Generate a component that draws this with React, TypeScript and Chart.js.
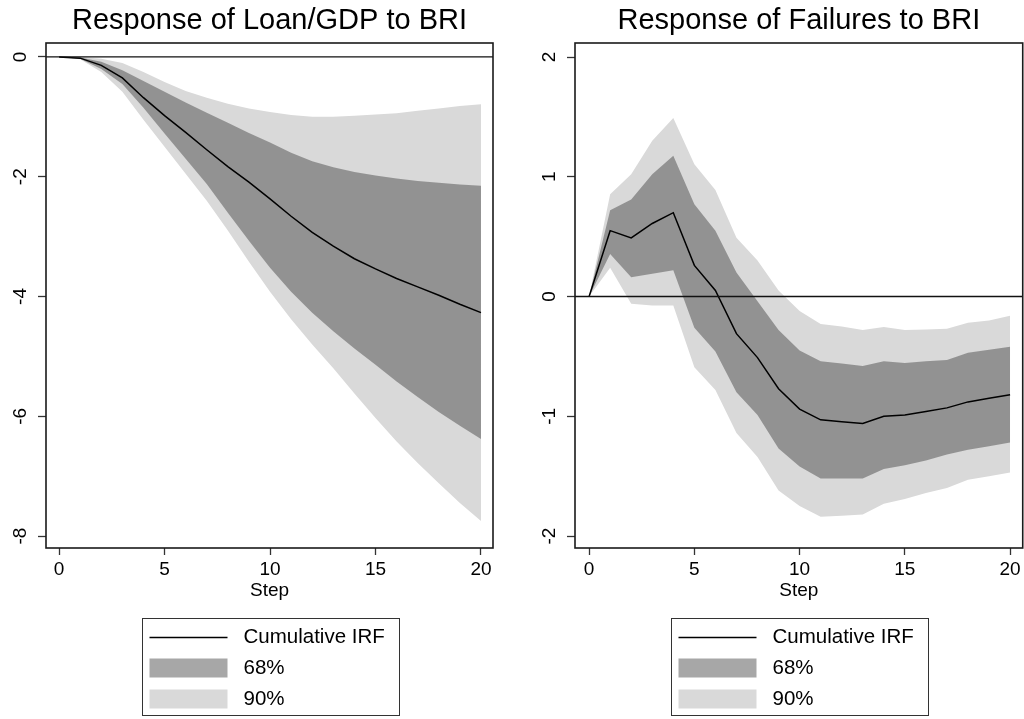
import React, { useEffect, useRef } from "react";
import { Chart, registerables } from "chart.js";

Chart.register(...registerables);

// ---------- data ----------
const steps = [0, 1, 2, 3, 4, 5, 6, 7, 8, 9, 10, 11, 12, 13, 14, 15, 16, 17, 18, 19, 20];
const xTicks = [0, 5, 10, 15, 20];
const legendLabels = ["Cumulative IRF", "68%", "90%"];
const xAxisLabel = "Step";

// Panel 1: Response of Loan/GDP to BRI
const loanTitle = "Response of Loan/GDP to BRI";
const loanYTicks = [0, -2, -4, -6, -8];
const loanIrf = [0, -0.02, -0.14, -0.35, -0.68, -0.98, -1.26, -1.55, -1.83, -2.09, -2.37, -2.66, -2.93, -3.16, -3.37, -3.54, -3.7, -3.84, -3.98, -4.13, -4.27];
const loan68Up = [0, -0.01, -0.08, -0.22, -0.4, -0.58, -0.76, -0.93, -1.1, -1.27, -1.43, -1.6, -1.74, -1.84, -1.92, -1.98, -2.03, -2.07, -2.1, -2.13, -2.15];
const loan68Lo = [0, -0.03, -0.2, -0.45, -0.85, -1.28, -1.7, -2.12, -2.6, -3.07, -3.52, -3.92, -4.27, -4.58, -4.87, -5.14, -5.42, -5.68, -5.93, -6.16, -6.38];
const loan90Up = [0, 0, -0.03, -0.1, -0.25, -0.42, -0.57, -0.68, -0.78, -0.86, -0.92, -0.97, -1.0, -1.0, -0.98, -0.96, -0.94, -0.9, -0.86, -0.82, -0.79];
const loan90Lo = [0, -0.04, -0.25, -0.58, -1.05, -1.5, -1.95, -2.4, -2.9, -3.42, -3.92, -4.38, -4.8, -5.2, -5.62, -6.03, -6.42, -6.78, -7.12, -7.45, -7.75];

// Panel 2: Response of Failures to BRI
const failTitle = "Response of Failures to BRI";
const failYTicks = [2, 1, 0, -1, -2];
const failIrf = [0, 0.55, 0.49, 0.61, 0.7, 0.26, 0.05, -0.31, -0.51, -0.77, -0.94, -1.03, -1.045, -1.06, -1.0, -0.99, -0.96, -0.93, -0.88, -0.85, -0.82];
const fail68Up = [0, 0.72, 0.81, 1.02, 1.175, 0.77, 0.55, 0.2, -0.04, -0.28, -0.45, -0.54, -0.56, -0.58, -0.54, -0.555, -0.54, -0.53, -0.47, -0.445, -0.42];
const fail68Lo = [0, 0.355, 0.16, 0.19, 0.22, -0.26, -0.46, -0.8, -0.99, -1.27, -1.42, -1.52, -1.52, -1.52, -1.44, -1.41, -1.37, -1.32, -1.28, -1.25, -1.22];
const fail90Up = [0, 0.855, 1.02, 1.3, 1.49, 1.105, 0.89, 0.49, 0.3, 0.05, -0.12, -0.23, -0.25, -0.28, -0.255, -0.28, -0.275, -0.27, -0.22, -0.2, -0.16];
const fail90Lo = [0, 0.24, -0.06, -0.075, -0.075, -0.59, -0.78, -1.14, -1.34, -1.62, -1.75, -1.84, -1.83, -1.82, -1.73, -1.69, -1.64, -1.6, -1.53, -1.5, -1.47];

const refLineValue = 0;

// ---------- style ----------
const FONT = "'Liberation Sans', Arial, Helvetica, sans-serif";
const BAND68 = "rgba(60,60,60,0.45)";
const BAND90 = "#d9d9d9";
const LINE = "#000000";

const framePlugin = {
  id: "frameAndRef",
  afterDatasetsDraw(chart: any) {
    const { ctx, chartArea, scales } = chart;
    ctx.save();
    const y0 = scales.y.getPixelForValue(refLineValue);
    ctx.strokeStyle = "#111";
    ctx.lineWidth = 1.3;
    ctx.beginPath();
    ctx.moveTo(chartArea.left, y0);
    ctx.lineTo(chartArea.right, y0);
    ctx.stroke();
    ctx.lineWidth = 1.6;
    ctx.strokeStyle = "#1a1a1a";
    ctx.strokeRect(chartArea.left, chartArea.top, chartArea.right - chartArea.left, chartArea.bottom - chartArea.top);
    ctx.restore();
  },
};

const legendPlugin = {
  id: "boxLegend",
  afterDraw(chart: any) {
    const { ctx, chartArea } = chart;
    const w = 257;
    const h = 97;
    const cx = (chartArea.left + chartArea.right) / 2 + 1;
    const left = Math.round(cx - w / 2) + 0.5;
    const top = chartArea.bottom + 70.5;
    ctx.save();
    ctx.strokeStyle = "#333";
    ctx.lineWidth = 1;
    ctx.strokeRect(left, top, w, h);
    const rows = [top + 19, top + 49.5, top + 80.5];
    const sx = left + 7;
    const sw = 78;
    ctx.strokeStyle = LINE;
    ctx.lineWidth = 1.5;
    ctx.beginPath();
    ctx.moveTo(sx, rows[0]);
    ctx.lineTo(sx + sw, rows[0]);
    ctx.stroke();
    ctx.fillStyle = BAND68;
    ctx.fillRect(sx, rows[1] - 9.5, sw, 19);
    ctx.fillStyle = BAND90;
    ctx.fillRect(sx, rows[2] - 9.5, sw, 19);
    ctx.fillStyle = "#000";
    ctx.font = `20.5px ${FONT}`;
    ctx.textBaseline = "middle";
    ctx.textAlign = "left";
    legendLabels.forEach((t, i) => ctx.fillText(t, left + 101, rows[i]));
    ctx.restore();
  },
};

type PanelProps = {
  title: string;
  irf: number[];
  up68: number[];
  lo68: number[];
  up90: number[];
  lo90: number[];
  yMin: number;
  yMax: number;
  yTicks: number[];
  xMin: number;
  xMax: number;
  yWidth: number;
  padRight: number;
};

function Panel(p: PanelProps) {
  const ref = useRef<HTMLCanvasElement | null>(null);
  useEffect(() => {
    if (!ref.current) return;
    const pts = (vals: number[]) => steps.map((s, i) => ({ x: s, y: vals[i] }));
    const tickFont = { family: FONT, size: 19 };
    const chart = new Chart(ref.current, {
      type: "line",
      data: {
        datasets: [
          { label: legendLabels[0], data: pts(p.irf), borderColor: LINE, borderWidth: 1.5, pointRadius: 0, fill: false, order: 0, tension: 0 },
          { label: legendLabels[1], data: pts(p.up68), borderWidth: 0, borderColor: "rgba(0,0,0,0)", backgroundColor: BAND68, pointRadius: 0, fill: "+1", order: 1 },
          { label: "68% lower", data: pts(p.lo68), borderWidth: 0, borderColor: "rgba(0,0,0,0)", pointRadius: 0, fill: false, order: 1 },
          { label: legendLabels[2], data: pts(p.up90), borderWidth: 0, borderColor: "rgba(0,0,0,0)", backgroundColor: BAND90, pointRadius: 0, fill: "+1", order: 2 },
          { label: "90% lower", data: pts(p.lo90), borderWidth: 0, borderColor: "rgba(0,0,0,0)", pointRadius: 0, fill: false, order: 2 },
        ],
      },
      options: {
        responsive: false,
        animation: false,
        devicePixelRatio: 1,
        layout: { padding: { left: 0, right: p.padRight, top: 0, bottom: 115 } },
        plugins: {
          legend: { display: false },
          tooltip: { enabled: false },
          title: {
            display: true,
            text: p.title,
            fullSize: false,
            color: "#000",
            font: { family: FONT, size: 29, weight: "normal" },
            padding: { top: 3.1, bottom: 5.1 },
          },
        },
        scales: {
          x: {
            type: "linear",
            min: p.xMin,
            max: p.xMax,
            afterBuildTicks: (s: any) => {
              s.ticks = xTicks.map((v) => ({ value: v }));
            },
            afterFit: (s: any) => {
              s.height = 56;
            },
            grid: { display: true, drawOnChartArea: false, drawTicks: true, tickLength: 7, tickColor: "#333", tickWidth: 1.3 },
            border: { display: false },
            ticks: { font: tickFont, color: "#000", padding: 3.3, maxRotation: 0, autoSkip: false },
            title: { display: true, text: xAxisLabel, color: "#000", font: tickFont, padding: { top: 0, bottom: 2 } },
          },
          y: {
            type: "linear",
            min: p.yMin,
            max: p.yMax,
            afterBuildTicks: (s: any) => {
              s.ticks = p.yTicks.map((v) => ({ value: v }));
            },
            afterFit: (s: any) => {
              s.width = p.yWidth;
            },
            grid: { display: true, drawOnChartArea: false, drawTicks: true, tickLength: 8, tickColor: "#333", tickWidth: 1.3 },
            border: { display: false },
            ticks: { font: tickFont, color: "#000", minRotation: 90, maxRotation: 90, crossAlign: "center", padding: 9, autoSkip: false },
          },
        },
      } as any,
      plugins: [framePlugin, legendPlugin],
    });
    return () => chart.destroy();
  }, []);
  return <canvas ref={ref} width={512} height={719} style={{ display: "block", width: 512, height: 719 }} />;
}

export default function App() {
  return (
    <div style={{ position: "absolute", left: 0, top: 0, width: 1024, height: 719, background: "#fff", overflow: "hidden" }}>
      <div style={{ position: "absolute", left: 0, top: 0 }}>
        <Panel title={loanTitle} irf={loanIrf} up68={loan68Up} lo68={loan68Lo} up90={loan90Up} lo90={loan90Lo}
          yMin={-8.2} yMax={0.233} yTicks={loanYTicks} xMin={-0.62} xMax={20.57} yWidth={46} padRight={19} />
      </div>
      <div style={{ position: "absolute", left: 512, top: 0 }}>
        <Panel title={failTitle} irf={failIrf} up68={fail68Up} lo68={fail68Lo} up90={fail90Up} lo90={fail90Lo}
          yMin={-2.1} yMax={2.117} yTicks={failYTicks} xMin={-0.67} xMax={20.6} yWidth={63} padRight={1} />
      </div>
    </div>
  );
}
